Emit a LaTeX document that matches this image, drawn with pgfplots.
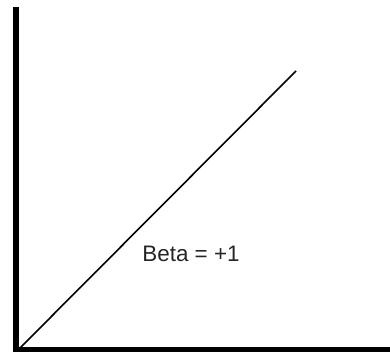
\documentclass[border=0pt]{standalone}
\usepackage{fontspec}
\setmainfont{Liberation Sans}
\usepackage{pgfplots}
\pgfplotsset{compat=1.18}
\begin{document}
\begin{tikzpicture}
\useasboundingbox (0,0) rectangle (390bp,352bp);
\begin{axis}[
  at={(0,0)}, anchor=south west,
  scale only axis, width=390bp, height=352bp,
  xmin=0, xmax=390, ymin=0, ymax=352,
  hide axis, clip=false,
]
\addplot[black, line width=1.6bp] coordinates {(18,2) (296,281)};
\draw[black, line width=6bp] (axis cs:16,0) -- (axis cs:16,345);
\draw[black, line width=5bp] (axis cs:13,2.5) -- (axis cs:390,2.5);
\node[font=\fontsize{22.5}{26}\selectfont, text=black!85] at (axis cs:191,98.5) {Beta = +1};
\end{axis}
\end{tikzpicture}
\end{document}
